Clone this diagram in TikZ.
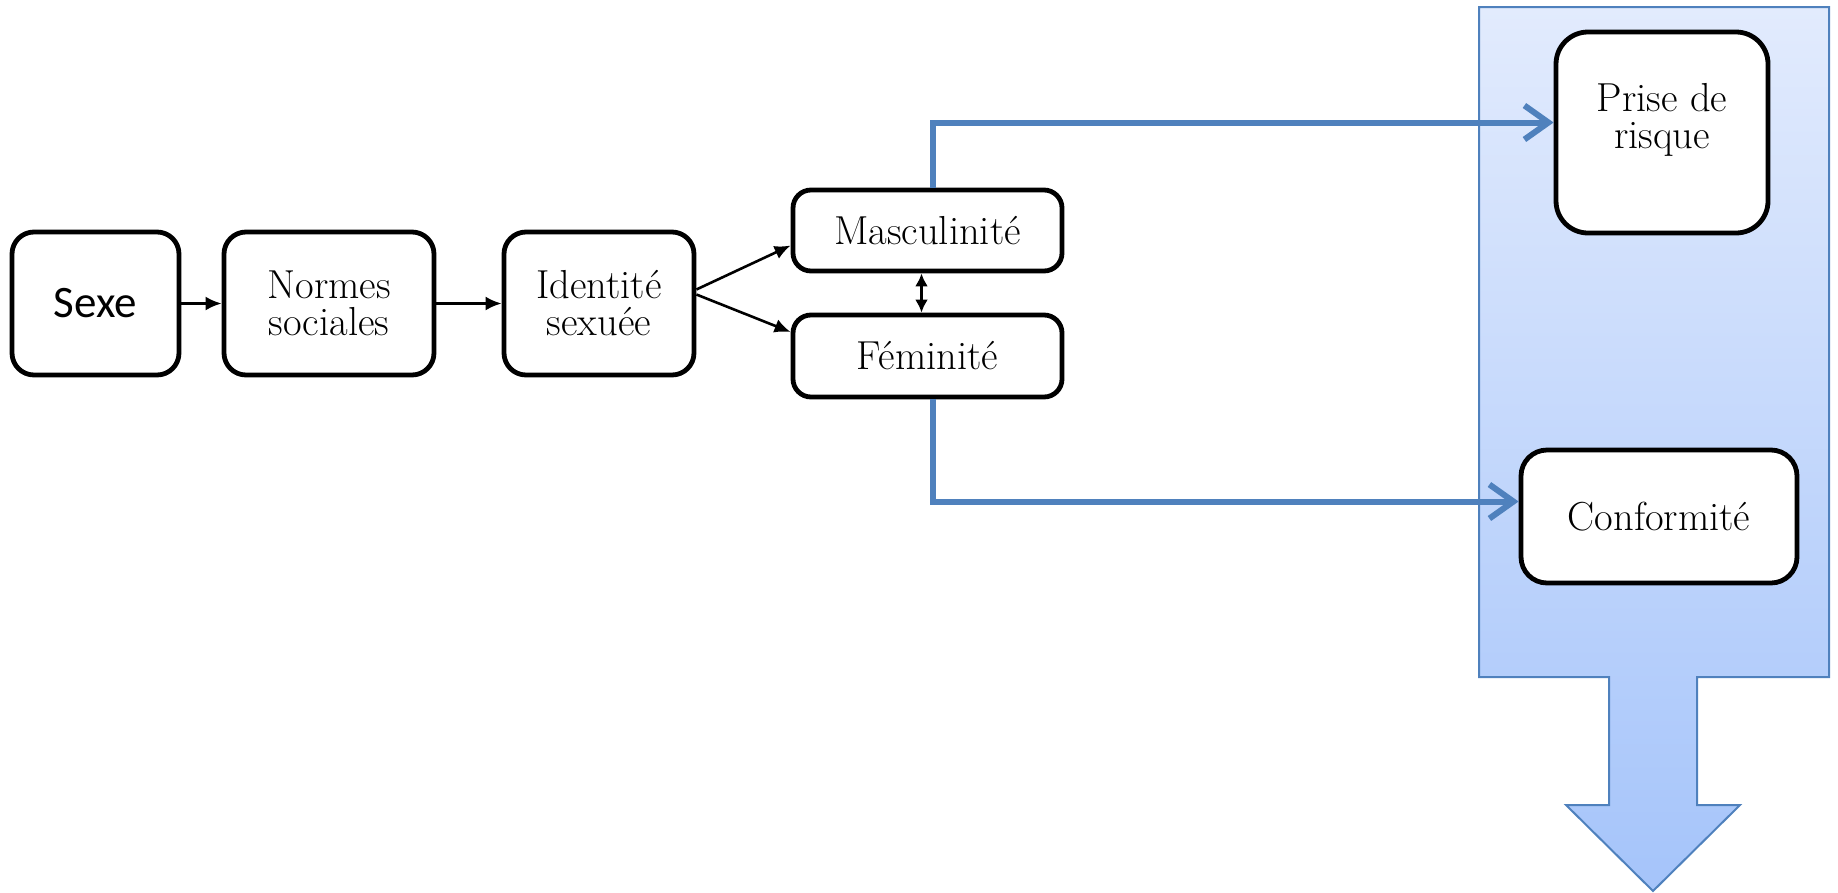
\documentclass[tikz,border=0pt]{standalone}
\usepackage{fontspec}
\newfontfamily\sexefont{Carlito}
\usetikzlibrary{arrows.meta,calc}
\definecolor{lineblue}{RGB}{79,129,189}
\definecolor{boxtop}{RGB}{226,235,253}
\definecolor{boxbot}{RGB}{165,196,250}
\tikzset{
  blk/.style={draw=black, line width=4.8pt, rounded corners=22pt, fill=white, align=center, inner sep=0pt,
    font=\fontsize{40.5}{37}\selectfont},
  thin/.style={line width=2.6pt, -{Latex[length=16pt,width=14pt]}},
  twoway/.style={line width=2.6pt, {Latex[length=13pt,width=13pt]}-{Latex[length=13pt,width=13pt]}},
  bluecon/.style={draw=lineblue, line width=6pt, -{Straight Barb[length=24pt,width=34pt]}},
}
\begin{document}
\begin{tikzpicture}[x=1pt,y=-1pt]
\useasboundingbox (0,0) rectangle (1838,892);
% big shaded container with down arrow
\path[draw=lineblue, line width=2pt, top color=boxtop, bottom color=boxbot]
  (1479,7) -- (1829,7) -- (1829,677) -- (1697,677) -- (1697,805) -- (1740,805)
  -- (1653,891) -- (1566,805) -- (1609,805) -- (1609,677) -- (1479,677) -- cycle;
% nodes
\node[blk, minimum width=167pt, minimum height=143pt, font=\sexefont\fontsize{45}{46}\selectfont] (sexe) at (95.5,303.5) {Sexe};
\node[blk, minimum width=210pt, minimum height=143pt] (normes) at (329,303.5) {Normes\\sociales};
\node[blk, minimum width=190pt, minimum height=143pt] (ident) at (599,303.5) {Identité\\sexuée};
\node[blk, rounded corners=18pt, minimum width=269pt, minimum height=81pt] (masc) at (927.5,230.5) {Masculinité};
\node[blk, rounded corners=18pt, minimum width=269pt, minimum height=82pt] (fem) at (927.5,356) {Féminité};
\node[blk, rounded corners=32pt, minimum width=212pt, minimum height=201pt] (prise) at (1662,132.5) {};
\node[font=\fontsize{40.5}{37}\selectfont, align=center, inner sep=0pt] (prisetxt) at (1662,120) {Prise de\\risque};
\node[blk, rounded corners=26pt, minimum width=276pt, minimum height=133pt] (conf) at (1659,516.5) {Conformité};
% black connectors
\draw[thin] (sexe) -- (normes);
\draw[thin] (normes) -- (ident);
\draw[thin] ($(ident.east)+(0,-14)$) -- ($(masc.west)+(0,15)$);
\draw[thin] ($(ident.east)+(0,-9)$) -- ($(fem.west)+(0,-24)$);
\draw[twoway] ($(masc.south)+(-6,0)$) -- ($(fem.north)+(-6,0)$);
% blue connectors
\draw[bluecon] ($(masc.north)+(5.5,0)$) |- ($(prise.west)+(0,-10)$);
\draw[bluecon] ($(fem.south)+(5.5,0)$) |- ($(conf.west)+(0,-15)$);
\end{tikzpicture}
\end{document}
